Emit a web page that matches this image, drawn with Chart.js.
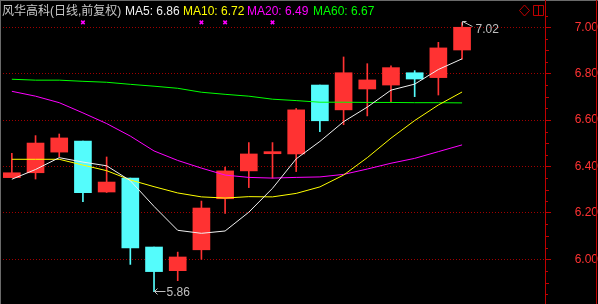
<!DOCTYPE html>
<html>
<head>
<meta charset="utf-8">
<script src="https://cdn.jsdelivr.net/npm/chart.js@4.4.1/dist/chart.umd.min.js"></script>
<style>
  html, body { margin: 0; padding: 0; background: #000; }
  #wrap { width: 598px; height: 304px; position: relative; }
</style>
</head>
<body>
<div id="wrap"><canvas id="kline"></canvas></div>
<script>
// 20 trading days, plus 3 empty slots on the right
const days = Array.from({ length: 23 }, (_, i) => String(i + 1))

const opens  = [6.352, 6.373, 6.462, 6.510, 6.290, 6.350, 6.053, 5.951, 6.041, 6.261, 6.381, 6.455, 6.454, 6.751, 6.644, 6.734, 6.751, 6.804, 6.783, 6.902]
const highs  = [6.457, 6.533, 6.540, 6.510, 6.441, 6.350, 6.053, 6.031, 6.251, 6.397, 6.503, 6.503, 6.650, 6.751, 6.872, 6.843, 6.834, 6.813, 6.935, 7.020]
const lows   = [6.352, 6.346, 6.442, 6.248, 6.288, 5.978, 5.860, 5.908, 6.000, 6.198, 6.309, 6.350, 6.378, 6.550, 6.580, 6.618, 6.678, 6.701, 6.708, 6.862]
const closes = [6.373, 6.501, 6.523, 6.287, 6.333, 6.049, 5.947, 6.010, 6.221, 6.381, 6.454, 6.464, 6.644, 6.597, 6.804, 6.773, 6.826, 6.777, 6.911, 7.000]

const ma5  = [6.345, 6.387, 6.438, 6.419, 6.403, 6.339, 6.228, 6.125, 6.112, 6.122, 6.203, 6.306, 6.433, 6.508, 6.593, 6.656, 6.729, 6.755, 6.818, 6.864]
const ma10 = [6.431, 6.431, 6.431, 6.406, 6.382, 6.342, 6.313, 6.286, 6.269, 6.264, 6.270, 6.269, 6.284, 6.312, 6.363, 6.438, 6.522, 6.598, 6.665, 6.721]
const ma20 = [6.724, 6.703, 6.675, 6.631, 6.585, 6.531, 6.467, 6.426, 6.393, 6.363, 6.353, 6.350, 6.353, 6.355, 6.366, 6.389, 6.414, 6.435, 6.464, 6.493]
const ma60 = [6.776, 6.772, 6.772, 6.767, 6.763, 6.754, 6.746, 6.737, 6.720, 6.711, 6.703, 6.690, 6.684, 6.677, 6.677, 6.676, 6.676, 6.675, 6.675, 6.674]

// magenta event marks above some days (1-based day numbers)
const markerDays = [4, 9, 10, 12]
const markerLevel = 7.021

const yTicks = [6.0, 6.2, 6.4, 6.6, 6.8, 7.0]
const yMin = 5.816
const yMax = 7.083

const UP = '#ff3232'
const DOWN = '#54fcfc'
const candleColors = opens.map((o, i) => closes[i] >= o ? UP : DOWN)

const FONT = '12px "Liberation Sans", "Noto Sans CJK SC", sans-serif'

const overlay = {
  id: 'overlay',
  beforeDraw(chart) {
    const { ctx, width, height } = chart
    ctx.save()
    ctx.fillStyle = '#000'
    ctx.fillRect(0, 0, width, height)
    ctx.restore()
  },
  afterDraw(chart) {
    const { ctx, width, height } = chart
    const x = chart.scales.x
    const y = chart.scales.y
    ctx.save()

    // frame lines
    ctx.lineWidth = 1
    ctx.strokeStyle = '#6a6a6a'
    ctx.beginPath()
    ctx.moveTo(0, 0.5); ctx.lineTo(width, 0.5)
    ctx.moveTo(0.5, 0); ctx.lineTo(0.5, height)
    ctx.stroke()
    ctx.strokeStyle = '#c00000'
    ctx.beginPath()
    ctx.moveTo(Math.round(y.left) + 0.5, 0); ctx.lineTo(Math.round(y.left) + 0.5, height)
    ctx.moveTo(596.5, 0); ctx.lineTo(596.5, height)
    ctx.stroke()

    // minor ticks every 0.05
    ctx.beginPath()
    for (let k = 117; k <= 141; k++) {
      if (k % 4 === 0) continue
      const py = Math.round(y.getPixelForValue(k * 0.05)) + 0.5
      const len = k % 2 === 0 ? 4 : 3
      ctx.moveTo(y.left, py); ctx.lineTo(y.left + len, py)
    }
    ctx.stroke()

    // top-right icons
    ctx.strokeStyle = '#c00000'
    ctx.beginPath()
    ctx.moveTo(524.5, 5); ctx.lineTo(529.5, 10.5); ctx.lineTo(524.5, 16); ctx.lineTo(519.5, 10.5); ctx.closePath()
    ctx.rect(533.5, 5.5, 10, 10)
    ctx.moveTo(538.5, 5.5); ctx.lineTo(538.5, 15.5)
    ctx.stroke()

    // header text
    ctx.font = FONT
    ctx.textBaseline = 'alphabetic'
    const parts = [
      { text: '风华高科(日线,前复权)', color: '#c8c8c8', at: 2 },
      { text: 'MA5: ' + ma5[ma5.length - 1].toFixed(2), color: '#f0f0f0', at: 125 },
      { text: 'MA10: ' + ma10[ma10.length - 1].toFixed(2), color: '#ffff00', at: 183 },
      { text: 'MA20: ' + ma20[ma20.length - 1].toFixed(2), color: '#ff00ff', at: 247 },
      { text: 'MA60: ' + ma60[ma60.length - 1].toFixed(2), color: '#00ff00', at: 313 },
    ]
    parts.forEach(p => {
      ctx.fillStyle = p.color
      ctx.fillText(p.text, p.at, 14.5)
    })

    // highest / lowest price labels
    const hiIdx = highs.indexOf(Math.max(...highs))
    const loIdx = lows.indexOf(Math.min(...lows))
    ctx.strokeStyle = '#c0c0c0'
    ctx.fillStyle = '#c0c0c0'

    const hx = Math.round(x.getPixelForValue(hiIdx)) + 0.5
    const hy = Math.round(y.getPixelForValue(highs[hiIdx])) - 1.5
    ctx.beginPath()
    ctx.moveTo(hx, hy + 4); ctx.lineTo(hx, hy); ctx.lineTo(hx + 4, hy)
    ctx.moveTo(hx, hy); ctx.lineTo(hx + 10, hy + 5)
    ctx.stroke()
    ctx.fillText(highs[hiIdx].toFixed(2), hx + 13, hy + 11)

    const lx = Math.round(x.getPixelForValue(loIdx)) + 0.5
    const ly = Math.round(y.getPixelForValue(lows[loIdx])) - 0.5
    ctx.beginPath()
    ctx.moveTo(lx + 11, ly); ctx.lineTo(lx, ly)
    ctx.moveTo(lx + 3, ly - 3); ctx.lineTo(lx, ly); ctx.lineTo(lx + 3, ly + 3)
    ctx.stroke()
    ctx.fillText(lows[loIdx].toFixed(2), lx + 12, ly + 4.5)

    ctx.restore()
  }
}

const maLine = (label, data, color) => ({
  type: 'line',
  label,
  data,
  borderColor: color,
  borderWidth: 1,
  pointRadius: 0,
  pointHoverRadius: 0,
  tension: 0,
  order: 1,
})

new Chart(document.getElementById('kline'), {
  type: 'bar',
  data: {
    labels: days,
    datasets: [
      {
        type: 'line',
        label: 'marks',
        data: days.map((d, i) => markerDays.includes(i + 1) ? markerLevel : null),
        showLine: false,
        pointStyle: 'crossRot',
        pointRadius: 2.5,
        borderColor: '#ff00ff',
        borderWidth: 1.5,
        order: 0,
      },
      maLine('MA5', ma5, '#f0f0f0'),
      maLine('MA10', ma10, '#ffff00'),
      maLine('MA20', ma20, '#ff00ff'),
      maLine('MA60', ma60, '#00ff00'),
      {
        label: 'body',
        data: opens.map((o, i) => [o, closes[i]]),
        backgroundColor: candleColors,
        barThickness: 17,
        grouped: false,
        borderWidth: 0,
        order: 2,
      },
      {
        label: 'wick',
        data: lows.map((l, i) => [l, highs[i]]),
        backgroundColor: candleColors,
        barThickness: 1,
        grouped: false,
        borderWidth: 0,
        order: 3,
      },
    ]
  },
  options: {
    responsive: true,
    maintainAspectRatio: false,
    animation: false,
    devicePixelRatio: 1,
    events: [],
    layout: { autoPadding: false, padding: { left: -1, right: 0, top: 8, bottom: 2 } },
    plugins: {
      legend: { display: false },
      tooltip: { enabled: false },
    },
    scales: {
      x: {
        display: false,
        offset: true,
      },
      y: {
        position: 'right',
        min: yMin,
        max: yMax,
        afterBuildTicks: (scale) => { scale.ticks = yTicks.map(value => ({ value })) },
        afterFit: (scale) => {
          scale.width = 53
          scale.paddingTop = 0
          scale.paddingBottom = 0
        },
        grid: {
          color: '#a00000',
          tickColor: '#c00000',
          tickLength: 6,
          lineWidth: 1,
        },
        border: { color: '#c00000', dash: [1, 2] },
        ticks: {
          color: '#ff3232',
          font: { family: '"Liberation Sans"', size: 12 },
          padding: 19,
          crossAlign: 'far',
          callback: (v) => Number(v).toFixed(2),
        },
      },
    },
  },
  plugins: [overlay],
})
</script>
</body>
</html>
